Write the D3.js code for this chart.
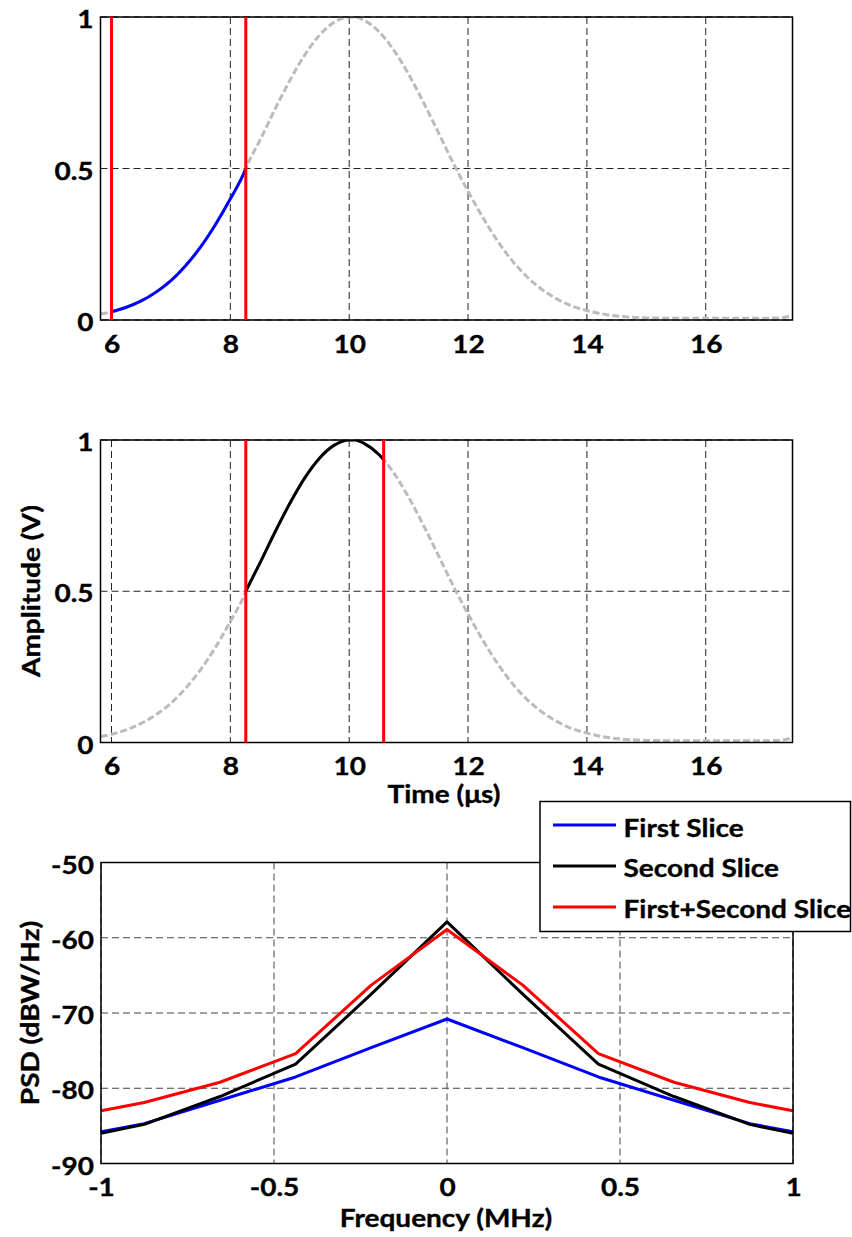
<!DOCTYPE html>
<html>
<head>
<meta charset="utf-8">
<script src="https://cdn.jsdelivr.net/npm/d3@7"></script>
<style>
  html, body { margin: 0; padding: 0; background: #fff; }
  svg { display: block; }
  text { font-family: Lato, "Open Sans", sans-serif; font-weight: bold; fill: #000;
         stroke: #000; stroke-width: 0.35px; }
</style>
</head>
<body>
<svg id="chart" width="852" height="1237"></svg>
<script>
// ---- Gaussian pulse samples (time in µs, amplitude in V) ----
const pulseTime = [5.82, 6.0, 6.25, 6.5, 6.75, 7.0, 7.25, 7.5, 7.75, 8.0, 8.25, 8.26, 8.5, 8.75,
  9.0, 9.25, 9.5, 9.75, 10.0, 10.1, 10.25, 10.5, 10.58, 10.75, 11.0, 11.25, 11.5, 11.75, 12.0,
  12.25, 12.5, 12.75, 13.0, 13.25, 13.5, 13.75, 14.0, 14.25, 14.5, 14.75, 15.0, 15.5, 16.0,
  16.5, 17.0, 17.25, 17.45];
const pulseAmp = [0.020, 0.027, 0.042, 0.063, 0.092, 0.130, 0.180, 0.241, 0.315, 0.400, 0.495, 0.500, 0.594, 0.695,
  0.790, 0.874, 0.940, 0.983, 1.000, 1.000, 0.989, 0.952, 0.935, 0.891, 0.811, 0.718, 0.619, 0.518, 0.425,
  0.338, 0.260, 0.194, 0.141, 0.100, 0.069, 0.046, 0.031, 0.020, 0.013, 0.009, 0.007, 0.006, 0.006,
  0.006, 0.006, 0.007, 0.015];

// Slice boundaries (µs)
const slice1 = [6.0, 8.26];
const slice2 = [8.26, 10.58];

const timeTicks = [6, 8, 10, 12, 14, 16];
const ampTicks = [0, 0.5, 1];

// ---- Power spectral density of the slices ----
const freq = [-1, -0.875, -0.656, -0.4375, -0.219, 0, 0.219, 0.4375, 0.656, 0.875, 1];
const psdFirst  = [-85.8, -84.7, -81.6, -78.5, -74.6, -70.8, -74.6, -78.5, -81.6, -84.7, -85.8];
const psdSecond = [-86.0, -84.8, -81.1, -76.8, -67.5, -57.9, -67.5, -76.8, -81.1, -84.8, -86.0];
const psdSum    = [-83.0, -81.9, -79.2, -75.4, -66.3, -58.9, -66.3, -75.4, -79.2, -81.9, -83.0];

const freqTicks = [-1, -0.5, 0, 0.5, 1];
const psdTicks = [-90, -80, -70, -60, -50];

const legendLabels = ["First Slice", "Second Slice", "First+Second Slice"];
const seriesColors = ["#0000ff", "#000000", "#ff0000"];

const svg = d3.select("#chart");
const FONT = 25;
const WIDEN = 1.12;   // horizontal stretch applied to every label

function fmt(v) { return String(v); }

// stretch a text element horizontally about its own anchor point
function widen(sel) {
  sel.each(function () {
    const t = d3.select(this);
    const x = +t.attr("x") || 0, y = +t.attr("y") || 0;
    t.attr("transform", `translate(${x},${y}) scale(${WIDEN},1) translate(${-x},${-y})`);
  });
}

function panel(opts) {
  const { id, x0, x1, y0, y1, xDomain, yDomain, xTicks, yTicks, gridGray } = opts;
  const x = d3.scaleLinear().domain(xDomain).range([x0, x1]);
  const y = d3.scaleLinear().domain(yDomain).range([y1, y0]);
  const g = svg.append("g");

  g.append("clipPath").attr("id", id).append("rect")
    .attr("x", x0).attr("y", y0).attr("width", x1 - x0).attr("height", y1 - y0);

  // grid
  const grid = g.append("g").attr("stroke", gridGray || "#222").attr("stroke-width", 1)
    .attr("stroke-dasharray", "7,4").attr("fill", "none");
  xTicks.forEach(t => {
    grid.append("line").attr("x1", x(t)).attr("x2", x(t)).attr("y1", y0).attr("y2", y1);
  });
  yTicks.forEach(t => {
    grid.append("line").attr("x1", x0).attr("x2", x1).attr("y1", y(t)).attr("y2", y(t));
  });

  // tick labels
  const xAxis = d3.axisBottom(x).tickValues(xTicks).tickSize(0).tickFormat(fmt);
  const ax = g.append("g").attr("transform", `translate(0,${y1})`).call(xAxis);
  ax.select(".domain").remove();
  ax.selectAll("text").attr("font-size", FONT).attr("dy", null).attr("x", 0).attr("y", 33)
    .attr("font-family", "Lato, sans-serif").attr("font-weight", "bold").attr("fill", "#000")
    .call(widen);

  const yAxis = d3.axisLeft(y).tickValues(yTicks).tickSize(0).tickFormat(fmt);
  const ay = g.append("g").attr("transform", `translate(${x0},0)`).call(yAxis);
  ay.select(".domain").remove();
  ay.selectAll("text").attr("font-size", FONT).attr("dy", null).attr("x", -7).attr("y", 10.5)
    .attr("font-family", "Lato, sans-serif").attr("font-weight", "bold").attr("fill", "#000")
    .call(widen);

  const plot = g.append("g").attr("clip-path", `url(#${id})`);
  return { x, y, g, plot, box: () => g.append("rect").attr("x", x0).attr("y", y0)
    .attr("width", x1 - x0).attr("height", y1 - y0).attr("fill", "none")
    .attr("stroke", "#000").attr("stroke-width", 1.5) };
}

const pulse = pulseTime.map((t, i) => ({ t, a: pulseAmp[i] }));

function timePanel(id, y0, y1, slice, color) {
  const p = panel({ id, x0: 100.5, x1: 792.5, y0, y1, xDomain: [5.815, 17.46], yDomain: [0, 1],
    xTicks: timeTicks, yTicks: ampTicks });
  const line = d3.line().x(d => p.x(d.t)).y(d => p.y(d.a)).curve(d3.curveMonotoneX);
  p.plot.append("path").datum(pulse).attr("d", line).attr("fill", "none")
    .attr("stroke", "#bcbcbc").attr("stroke-width", 3).attr("stroke-dasharray", "7,3");
  const seg = pulse.filter(d => d.t >= slice[0] - 1e-9 && d.t <= slice[1] + 1e-9);
  p.plot.append("path").datum(seg).attr("d", line).attr("fill", "none")
    .attr("stroke", color).attr("stroke-width", 3);
  p.box();
  slice.forEach(t => {
    p.g.append("line").attr("x1", p.x(t)).attr("x2", p.x(t)).attr("y1", y0).attr("y2", y1)
      .attr("stroke", "#ff0000").attr("stroke-width", 3);
  });
  return p;
}

timePanel("clipTop", 17, 320, slice1, "#0000ff");
timePanel("clipMid", 440, 742.5, slice2, "#000000");

svg.append("text").attr("x", 444).attr("y", 803).attr("text-anchor", "middle")
  .attr("font-size", FONT).text("Time (μs)").call(widen);
svg.append("text").attr("transform", `translate(40,591) rotate(-90) scale(${WIDEN},1)`)
  .attr("text-anchor", "middle").attr("font-size", FONT).text("Amplitude (V)");

// ---- PSD panel ----
const psd = panel({ id: "clipPsd", x0: 101, x1: 793, y0: 862.5, y1: 1163.5, xDomain: [-1, 1],
  yDomain: [-90, -50], xTicks: freqTicks, yTicks: psdTicks, gridGray: "#444" });
const psdLine = d3.line().x(d => psd.x(d[0])).y(d => psd.y(d[1]));
[psdFirst, psdSecond, psdSum].forEach((vals, i) => {
  psd.plot.append("path").datum(freq.map((f, j) => [f, vals[j]])).attr("d", psdLine)
    .attr("fill", "none").attr("stroke", seriesColors[i]).attr("stroke-width", 3)
    .attr("stroke-linejoin", "round");
});
psd.box();

svg.append("text").attr("x", 446).attr("y", 1227).attr("text-anchor", "middle")
  .attr("font-size", FONT).text("Frequency (MHz)").call(widen);
svg.append("text").attr("transform", `translate(39,1013) rotate(-90) scale(${WIDEN},1)`)
  .attr("text-anchor", "middle").attr("font-size", FONT).text("PSD (dBW/Hz)");

// legend
const lg = svg.append("g");
lg.append("rect").attr("x", 540).attr("y", 801.5).attr("width", 310.5).attr("height", 130)
  .attr("fill", "#fff").attr("stroke", "#000").attr("stroke-width", 1.5);
legendLabels.forEach((lab, i) => {
  const yy = 825 + i * 41;
  lg.append("line").attr("x1", 553).attr("x2", 616).attr("y1", yy).attr("y2", yy)
    .attr("stroke", seriesColors[i]).attr("stroke-width", 3);
  lg.append("text").attr("x", 623.5).attr("y", yy + 11.5).attr("font-size", FONT).text(lab).call(widen);
});
</script>
</body>
</html>
